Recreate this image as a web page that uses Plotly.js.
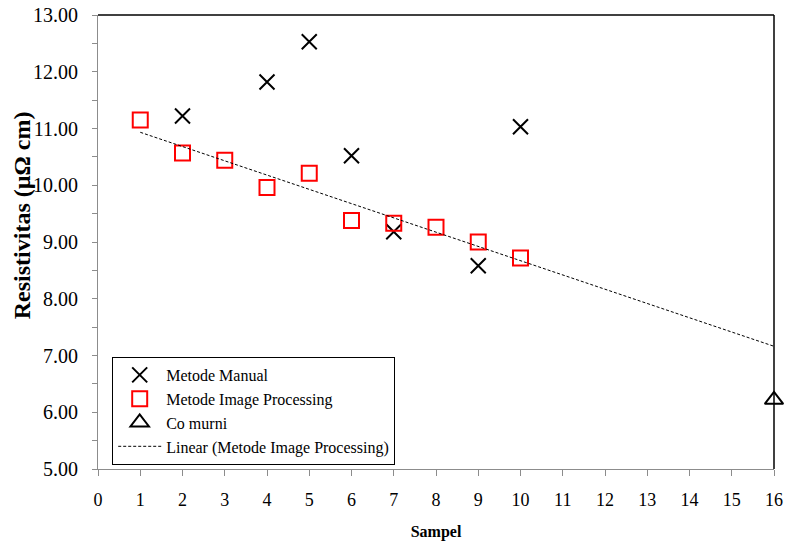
<!DOCTYPE html>
<html>
<head>
<meta charset="utf-8">
<script src="https://cdn.plot.ly/plotly-3.0.1.min.js"></script>
<style>html,body{margin:0;padding:0;background:#fff;}#chart{width:785px;height:541px;}</style>
</head>
<body>
<div id="chart"></div>
<script>
// Data
const manualX = [2, 4, 5, 6, 7, 9, 10];
const manualY = [11.22, 11.82, 12.53, 10.52, 9.18, 8.58, 11.03];
const imgX = [1, 2, 3, 4, 5, 6, 7, 8, 9, 10];
const imgY = [11.15, 10.57, 10.44, 9.96, 10.21, 9.38, 9.33, 9.26, 9.00, 8.72];
const murniX = [16];
const murniY = [6.22];
const seriesNames = ["Metode Manual", "Metode Image Processing", "Co murni", "Linear (Metode Image Processing)"];
const trendRange = [1, 16];
const xTitle = "Sampel";
const yTitle = "Resistivitas (µΩ cm)";

// linear regression of image-processing series
function linfit(xs, ys) {
  const n = xs.length;
  const mx = xs.reduce((a, b) => a + b, 0) / n;
  const my = ys.reduce((a, b) => a + b, 0) / n;
  let sxy = 0, sxx = 0;
  for (let i = 0; i < n; i++) { sxy += (xs[i] - mx) * (ys[i] - my); sxx += (xs[i] - mx) ** 2; }
  const b = sxy / sxx; return { a: my - b * mx, b: b };
}
const fit = linfit(imgX, imgY);
const trendY = trendRange.map(x => fit.a + fit.b * x);

const serif = "Liberation Serif, Times New Roman, serif";

const traces = [
  { x: manualX, y: manualY, name: seriesNames[0], type: 'scatter', mode: 'markers',
    marker: { symbol: 'x-thin-open', size: 15, color: '#000', line: { color: '#000', width: 2 } } },
  { x: imgX, y: imgY, name: seriesNames[1], type: 'scatter', mode: 'markers',
    marker: { symbol: 'square-open', size: 15, color: '#ff0000', line: { color: '#ff0000', width: 2 } } },
  { x: murniX, y: murniY, name: seriesNames[2], type: 'scatter', mode: 'markers', cliponaxis: false,
    marker: { symbol: 'triangle-up-open', size: 16, color: '#000', line: { color: '#000', width: 2 } } },
  { x: trendRange, y: trendY, name: seriesNames[3], type: 'scatter', mode: 'lines',
    line: { color: '#000', width: 1, dash: '3px,2px' } }
];

const layout = {
  width: 785, height: 541,
  margin: { l: 98, r: 11, t: 15, b: 72 },
  paper_bgcolor: '#fff', plot_bgcolor: '#fff',
  font: { family: serif, color: '#000', size: 16 },
  showlegend: true,
  legend: {
    x: 0.021, y: 0.2467, xanchor: 'left', yanchor: 'top',
    bordercolor: '#000', borderwidth: 1, bgcolor: '#fff',
    font: { family: serif, size: 16, color: '#000' },
    itemwidth: 43, tracegroupgap: 0
  },
  xaxis: {
    range: [0, 16], dtick: 1, tick0: 0, showgrid: false, zeroline: false,
    showline: true, linecolor: '#8c8c8c', linewidth: 1,
    ticks: 'outside', ticklen: 6, tickcolor: '#8c8c8c', tickwidth: 1,
    ticklabelstandoff: 8,
    tickfont: { family: serif, size: 18, color: '#000' },
    title: { text: '<b>' + xTitle + '</b>', font: { family: serif, size: 16, color: '#000' }, standoff: 22 }
  },
  yaxis: {
    range: [5, 13], dtick: 1, tick0: 5, tickformat: '.2f', showgrid: false, zeroline: false,
    showline: true, linecolor: '#8c8c8c', linewidth: 1,
    ticks: 'outside', ticklen: 5, tickcolor: '#8c8c8c', tickwidth: 1,
    ticklabelstandoff: 10,
    minor: { dtick: 0.5, ticks: 'outside', ticklen: 5, tickcolor: '#8c8c8c', showgrid: false },
    tickfont: { family: serif, size: 20, color: '#000' }
  },
  annotations: [
    { text: '<b>' + yTitle + '</b>', xref: 'paper', yref: 'paper', x: 0, y: 0.559,
      xanchor: 'center', yanchor: 'middle', xshift: -76, textangle: -90, showarrow: false,
      font: { family: serif, size: 24, color: '#000' } }
  ],
  shapes: [
    { type: 'line', xref: 'paper', yref: 'paper', x0: 0, x1: 1, y0: 1, y1: 1, line: { color: '#000', width: 1.5 } },
    { type: 'line', xref: 'paper', yref: 'paper', x0: 1, x1: 1, y0: 0, y1: 1, line: { color: '#000', width: 1.5 } }
  ]
};

Plotly.newPlot('chart', traces, layout, { displayModeBar: false, staticPlot: true });
</script>
</body>
</html>
